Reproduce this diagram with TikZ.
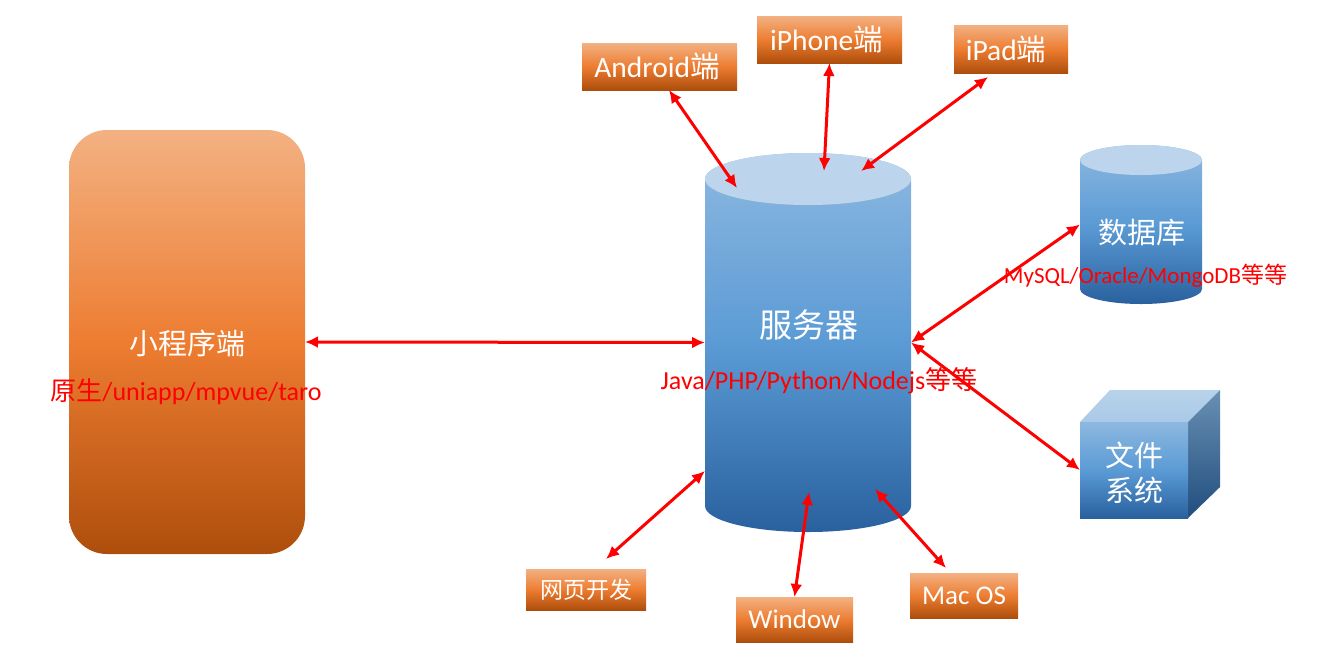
\documentclass[tikz,border=0pt]{standalone}
\usepackage{fontspec}
\setmainfont{Carlito}
\newfontfamily\cjk{Noto Sans CJK SC}
\usetikzlibrary{arrows.meta}
\definecolor{orangetop}{HTML}{F3B183}
\definecolor{orangemid}{HTML}{ED7D31}
\definecolor{orangelow}{HTML}{AE4E0C}
\definecolor{bluetop}{HTML}{8DB8E0}
\definecolor{bluemid}{HTML}{5B9BD5}
\definecolor{bluelow}{HTML}{29619E}
\definecolor{bluecap}{HTML}{BDD5EC}
\tikzset{
    clientbox/.style={rectangle, top color=orangetop, bottom color=orangelow, middle color=orangemid, text=white, font=\fontsize{29.5}{32}\selectfont, inner sep=0pt, outer sep=0pt},
    bluefade/.style={top color=bluetop, bottom color=bluelow, middle color=bluemid},
    frame/.style={rectangle, inner sep=0pt, outer sep=0pt},
    whitetext/.style={text=white, font=\fontsize{29}{35}\selectfont\cjk, align=center},
    redtext/.style={text=red, font=\fontsize{26}{30}\selectfont},
    link/.style={red, line width=3pt, {Latex[length=13pt,width=12pt]}-{Latex[length=13pt,width=12pt]}}
}
\begin{document}
\begin{tikzpicture}[x=1pt, y=-1pt]
    \useasboundingbox (0,0) rectangle (1320,657);

    \node[clientbox, rounded corners=38pt, minimum width=236pt, minimum height=424pt] (miniapp) at (187,342) {};

    \node[frame, minimum width=206pt, minimum height=379pt] (server) at (808,342.5) {};
    \shade[bluefade] (705,179) -- (705,506) arc [x radius=103, y radius=26, start angle=180, end angle=0] -- (911,179) arc [x radius=103, y radius=26, start angle=0, end angle=-180] -- cycle;
    \fill[bluecap] (808,179) ellipse [x radius=103, y radius=26];

    \node[frame, minimum width=122pt, minimum height=159pt] (database) at (1141,224.5) {};
    \shade[bluefade] (1080,160) -- (1080,289) arc [x radius=61, y radius=15, start angle=180, end angle=0] -- (1202,160) arc [x radius=61, y radius=15, start angle=0, end angle=-180] -- cycle;
    \fill[bluecap] (1141,160) ellipse [x radius=61, y radius=15];

    \shade[top color=bluecap!90!bluetop, bottom color=bluecap!60!bluetop] (1080,422) -- (1110,390) -- (1220,390) -- (1188,422) -- cycle;
    \shade[top color=bluemid!60!gray, bottom color=bluelow!80!black] (1188,422) -- (1220,390) -- (1220,487) -- (1188,518) -- cycle;
    \node[frame, bluefade, minimum width=108pt, minimum height=96pt] (files) at (1134,470) {};

    \node[clientbox, minimum width=155pt, minimum height=47pt] (android) at (659.5,66.5) {Android{\cjk 端}\kern5pt};
    \node[clientbox, minimum width=145pt, minimum height=47pt] (iphone) at (829.5,39.5) {iPhone{\cjk 端}\kern6pt};
    \node[clientbox, minimum width=114pt, minimum height=48pt] (ipad) at (1011,49) {iPad{\cjk 端}\kern10pt};
    \node[clientbox, minimum width=120pt, minimum height=41pt, font=\fontsize{23}{28}\selectfont\cjk] (webpage) at (586,589.5) {网页开发};
    \node[clientbox, minimum width=117pt, minimum height=45pt, font=\fontsize{27}{30}\selectfont] (window) at (794.5,619.5) {Window};
    \node[clientbox, minimum width=108pt, minimum height=45pt, font=\fontsize{27}{30}\selectfont] (macos) at (964,595.5) {Mac OS};

    \coordinate (androidend) at (737,188);
    \coordinate (iphoneend) at (824,171);
    \coordinate (ipadend) at (861,171);
    \coordinate (ipadtop) at (988,77);
    \coordinate (webend) at (606,559);
    \coordinate (webserver) at (705,471);
    \coordinate (windowend) at (809,492);
    \coordinate (macend) at (875,489);
    \coordinate (mactop) at (946,568);

    \draw[link] (miniapp.east) -- (server.west);
    \draw[link] (android.-68) -- (androidend);
    \draw[link] (iphone.south) -- (iphoneend);
    \draw[link] (ipadtop) -- (ipadend);
    \draw[link] (webend) -- (webserver);
    \draw[link] (window.north) -- (windowend);
    \draw[link] (mactop) -- (macend);
    \draw[link] (server.east) -- (database.west);
    \draw[link] (server.east) -- (files.west);

    \node[whitetext] (mininame) at (187,343) {小程序端};
    \node[whitetext, font=\fontsize{33}{35}\selectfont\cjk] (servername) at (809,325) {服务器};
    \node[whitetext] (dbname) at (1142,233) {数据库};
    \node[whitetext] (filesname) at (1134,473) {文件\\系统};

    \node[redtext] (minired) at (186,392) {{\cjk 原生}/uniapp/mpvue/taro};
    \node[redtext] (serverred) at (819,381) {Java/PHP/Python/Nodejs{\cjk 等等}};
    \node[redtext, font=\fontsize{23}{27}\selectfont] (dbred) at (1145.5,276) {MySQL/Oracle/MongoDB{\cjk 等等}};
\end{tikzpicture}
\end{document}
